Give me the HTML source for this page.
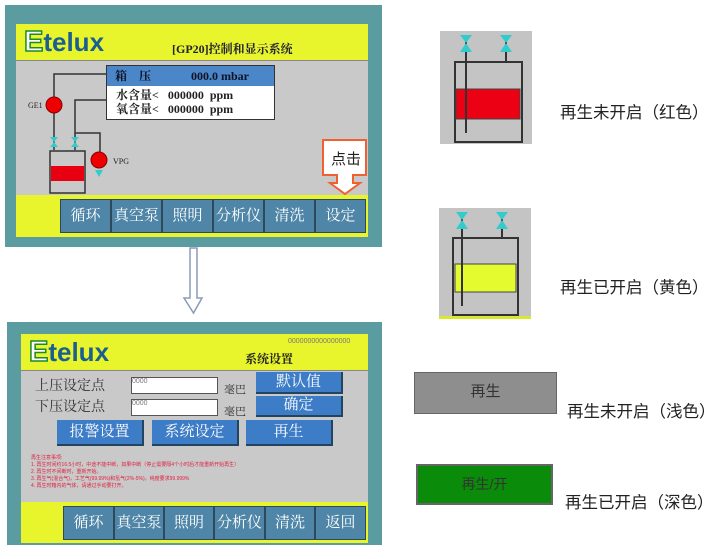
<!DOCTYPE html>
<html><head><meta charset="utf-8"><style>
body{margin:0;width:720px;height:559px;background:#fff;position:relative;overflow:hidden;font-family:"Liberation Sans","Noto Sans CJK SC",sans-serif}
.a{position:absolute}
.s{font-family:"Liberation Serif","Noto Serif CJK SC",serif}
.btn{position:absolute;background:#4f86a8;color:#fff;text-align:center;font-family:"Liberation Serif","Noto Serif CJK SC",serif;font-size:15px;border:1px solid #2c4a5c;box-sizing:border-box}
.bb{position:absolute;background:#3d7cc6;color:#fff;text-align:center;font-family:"Liberation Serif","Noto Serif CJK SC",serif;font-size:15px;border-right:2px solid #22445f;border-bottom:2px solid #22445f;box-sizing:border-box}
.logo{position:absolute;font-weight:bold;font-size:26px;color:#1a5f8f}
.lbl{position:absolute;font-size:16.5px;color:#222;font-family:"Liberation Sans","Noto Sans CJK SC",sans-serif}
</style></head><body>
<!-- top panel -->
<div class="a" style="left:5px;top:5px;width:377px;height:242px;background:#5b9ca1"></div>
<div class="a" style="left:16px;top:24px;width:352px;height:213px;background:#c9c9c9"></div>
<div class="a" style="left:16px;top:24px;width:352px;height:36px;background:#e8f52c;border-bottom:1px solid #888"></div>
<div class="logo" style="left:24px;top:26px"><span style="color:#fff;-webkit-text-stroke:1.5px #1c8a2c;font-size:29px">E</span>telux</div>
<div class="a s" style="left:172px;top:40px;font-size:12px;font-weight:bold;color:#223">[GP20]控制和显示系统</div>
<div class="a" style="left:16px;top:195px;width:352px;height:42px;background:#e8f52c"></div>
<div class="btn" style="left:60px;top:199px;width:51px;height:34px;line-height:32px">循环</div>
<div class="btn" style="left:111px;top:199px;width:51px;height:34px;line-height:32px">真空泵</div>
<div class="btn" style="left:162px;top:199px;width:51px;height:34px;line-height:32px">照明</div>
<div class="btn" style="left:213px;top:199px;width:51px;height:34px;line-height:32px">分析仪</div>
<div class="btn" style="left:264px;top:199px;width:51px;height:34px;line-height:32px">清洗</div>
<div class="btn" style="left:315px;top:199px;width:51px;height:34px;line-height:32px">设定</div>
<div class="a" style="left:106px;top:65px;width:169px;height:55px;background:#fff;border:1px solid #333;box-sizing:border-box"></div>
<div class="a s" style="left:107px;top:66px;width:167px;height:20px;background:#4a86c8;font-size:12px;font-weight:bold;color:#112;line-height:20px"><span style="margin-left:8px">箱　压</span><span style="margin-left:40px">000.0 mbar</span></div>
<div class="a s" style="left:116px;top:88px;font-size:12px;font-weight:bold;color:#222;line-height:14px">水含量&lt;&nbsp;&nbsp;&nbsp;000000&nbsp;&nbsp;ppm<br>氧含量&lt;&nbsp;&nbsp;&nbsp;000000&nbsp;&nbsp;ppm</div>
<svg class="a" style="left:0;top:0" width="390" height="320">
<polyline points="106,74 54,74 54,150" fill="none" stroke="#333" stroke-width="1.5"/>
<polyline points="106,100 75,100 75,150" fill="none" stroke="#333" stroke-width="1.5"/>
<polyline points="75,133 100,133 100,160" fill="none" stroke="#333" stroke-width="1.5"/>
<circle cx="54" cy="105" r="8" fill="#e00" stroke="#800"/>
<circle cx="99" cy="160" r="8" fill="#e00" stroke="#800"/>
<polygon points="95,170 103,170 99,177" fill="#3cc"/>
<polygon points="50,137 58,137 54,142 58,147 50,147 54,142" fill="#3cc"/>
<polygon points="71,137 79,137 75,142 79,147 71,147 75,142" fill="#3cc"/>
<rect x="50" y="151" width="35" height="42" fill="none" stroke="#333" stroke-width="1.5"/>
<rect x="51" y="166" width="33" height="15" fill="#e80010"/>
<text x="28" y="108" font-size="8" fill="#222" font-family="Liberation Serif">GE1</text>
<text x="113" y="164" font-size="8" fill="#222" font-family="Liberation Serif">VPG</text>
<polygon points="323,140 366,140 366,175 353,175 353,183 360,183 345,194 330,183 337,183 337,175 323,175" fill="#fff" stroke="#f06030" stroke-width="2"/>
<text x="331" y="164" font-size="15" fill="#222" font-family="Noto Sans CJK SC">点击</text>
<polygon points="190,248 197,248 197,298 202,298 193.5,313 184,298 190,298" fill="#fff" stroke="#8a9bb8" stroke-width="1.5"/>
</svg>
<!-- bottom panel -->
<div class="a" style="left:7px;top:322px;width:375px;height:223px;background:#5b9ca1"></div>
<div class="a" style="left:21px;top:334px;width:347px;height:209px;background:#c9c9c9"></div>
<div class="a" style="left:21px;top:334px;width:347px;height:36px;background:#e8f52c;border-bottom:1px solid #888"></div>
<div class="logo" style="left:29px;top:336px"><span style="color:#fff;-webkit-text-stroke:1.5px #1c8a2c;font-size:29px">E</span>telux</div>
<div class="a" style="left:288px;top:338px;font-size:7px;color:#777">0000000000000000</div>
<div class="a s" style="left:245px;top:350px;font-size:12px;font-weight:bold;color:#222">系统设置</div>
<div class="a s" style="left:35px;top:376px;font-size:14px;color:#333;line-height:21px">上压设定点<br>下压设定点</div>
<div class="a" style="left:131px;top:377px;width:87px;height:17px;background:#fff;border:1px solid #555;box-sizing:border-box;font-size:7px;color:#777">0000</div>
<div class="a" style="left:131px;top:399px;width:87px;height:17px;background:#fff;border:1px solid #555;box-sizing:border-box;font-size:7px;color:#777">0000</div>
<div class="a s" style="left:224px;top:379px;font-size:11px;color:#333;line-height:22px">毫巴<br>毫巴</div>
<div class="bb" style="left:256px;top:372px;width:87px;height:22px;line-height:20px">默认值</div>
<div class="bb" style="left:256px;top:396px;width:87px;height:21px;line-height:19px">确定</div>
<div class="bb" style="left:57px;top:420px;width:87px;height:26px;line-height:24px">报警设置</div>
<div class="bb" style="left:152px;top:420px;width:87px;height:26px;line-height:24px">系统设定</div>
<div class="bb" style="left:246px;top:420px;width:87px;height:26px;line-height:24px">再生</div>
<div class="a" style="left:31px;top:455px;font-size:5px;color:#e02040;line-height:7px;white-space:nowrap">再生注意事项:<br>1. 再生时间约16.5小时，中途不能中断，如果中断（停止需要隔4个小时后才能重新开始再生）<br>2. 再生时不间断时，重新开始。<br>3. 再生气(混合气)，工艺气(99.99%)和氢气(2%-5%)，纯度要求99.999%<br>4. 再生时箱内的气体，请通过手动要打开。</div>
<div class="a" style="left:21px;top:502px;width:347px;height:41px;background:#e8f52c"></div>
<div class="btn" style="left:63px;top:506px;width:51px;height:34px;line-height:32px">循环</div>
<div class="btn" style="left:114px;top:506px;width:50px;height:34px;line-height:32px">真空泵</div>
<div class="btn" style="left:164px;top:506px;width:50px;height:34px;line-height:32px">照明</div>
<div class="btn" style="left:214px;top:506px;width:51px;height:34px;line-height:32px">分析仪</div>
<div class="btn" style="left:265px;top:506px;width:50px;height:34px;line-height:32px">清洗</div>
<div class="btn" style="left:315px;top:506px;width:51px;height:34px;line-height:32px">返回</div>
<!-- right side -->
<svg class="a" style="left:0;top:0" width="720" height="559">
<rect x="440" y="31" width="92" height="113" fill="#c4c4c4"/>
<rect x="455" y="62" width="67" height="80" fill="none" stroke="#333" stroke-width="2"/>
<rect x="456" y="89" width="64" height="30" fill="#ec0014" stroke="#444"/>
<line x1="466" y1="40" x2="466" y2="133" stroke="#333" stroke-width="2"/>
<line x1="506" y1="40" x2="506" y2="62" stroke="#333" stroke-width="2"/>
<polygon points="460,35 472,35 466,43 472,52 460,52 466,43" fill="#3cc"/>
<polygon points="500,35 512,35 506,43 512,52 500,52 506,43" fill="#3cc"/>
<rect x="439" y="208" width="92" height="110" fill="#c4c4c4"/>
<rect x="439" y="316" width="92" height="3" fill="#d8e830"/>
<rect x="453" y="238" width="65" height="77" fill="none" stroke="#333" stroke-width="2"/>
<rect x="455" y="264" width="61" height="28" fill="#e4fb30" stroke="#444"/>
<line x1="462" y1="216" x2="462" y2="306" stroke="#333" stroke-width="2"/>
<line x1="502" y1="216" x2="502" y2="238" stroke="#333" stroke-width="2"/>
<polygon points="456,212 468,212 462,220 468,229 456,229 462,220" fill="#3cc"/>
<polygon points="496,212 508,212 502,220 508,229 496,229 502,220" fill="#3cc"/>
</svg>
<div class="lbl" style="left:560px;top:99px">再生未开启（红色）</div>
<div class="lbl" style="left:560px;top:274px">再生已开启（黄色）</div>
<div class="a" style="left:414px;top:372px;width:143px;height:42px;background:#8e8e8e;border:1px solid #666;box-sizing:border-box;text-align:center;line-height:38px;font-size:15px;color:#333">再生</div>
<div class="lbl" style="left:567px;top:398px">再生未开启（浅色）</div>
<div class="a" style="left:416px;top:464px;width:137px;height:41px;background:#0a8c0a;border:2px solid #666;box-sizing:border-box;text-align:center;line-height:37px;font-size:14px;color:#333">再生/开</div>
<div class="lbl" style="left:565px;top:489px">再生已开启（深色）</div>
</body></html>
